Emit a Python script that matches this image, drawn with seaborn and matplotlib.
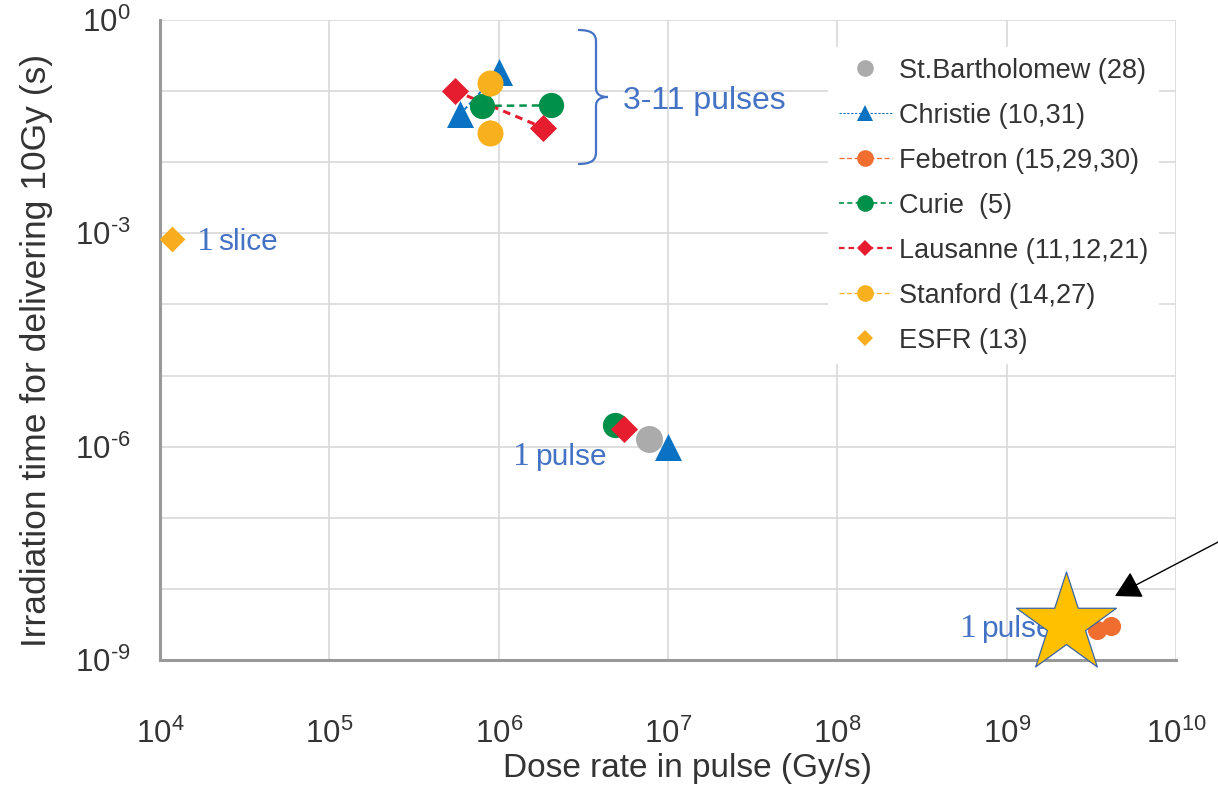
import numpy as np
import pandas as pd
import matplotlib
matplotlib.use("Agg")
import matplotlib.pyplot as plt
import seaborn as sns
from matplotlib.lines import Line2D
from matplotlib.path import Path
from matplotlib.patches import PathPatch
from matplotlib.transforms import Affine2D
from matplotlib.ticker import FixedLocator, FuncFormatter, NullLocator

# Dose rate in pulse (Gy/s) and irradiation time needed for 10 Gy (s)
bart_x = [7.7e6]
bart_y = [1.28e-6]
christie_x = [5.9e5, 1.0e6, 1.0e7]
christie_y = [0.047, 0.183, 1.0e-6]
febetron_x = [3.4e9, 4.15e9]
febetron_y = [2.65e-9, 3.0e-9]
curie_x = [7.95e5, 2.05e6, 4.85e6]
curie_y = [0.062, 0.063, 2.0e-6]
lausanne_x = [5.5e5, 1.83e6, 5.5e6]
lausanne_y = [0.101, 0.0306, 1.75e-6]
stanford_x = [8.9e5, 8.9e5]
stanford_y = [0.129, 0.0255]
esfr_x = [1.17e4]
esfr_y = [8.2e-4]
highlight_x = [2.25e9]
highlight_y = [3.18e-9]

# which points belong to the multi-pulse group (joined by dashed lines)
christie_multi = [True, True, False]
febetron_multi = [True, True]
curie_multi = [True, True, False]
lausanne_multi = [True, True, False]
stanford_multi = [True, True]

labels = ["St.Bartholomew (28)", "Christie (10,31)", "Febetron (15,29,30)",
          "Curie  (5)", "Lausanne (11,12,21)", "Stanford (14,27)", "ESFR (13)"]
x_tick_exponents = [4, 5, 6, 7, 8, 9, 10]
y_tick_exponents = [-9, -8, -7, -6, -5, -4, -3, -2, -1, 0]
y_label_exponents = [-9, -6, -3, 0]

rows = []
for name, xs, ys, multi in [
    (labels[0], bart_x, bart_y, [False]),
    (labels[1], christie_x, christie_y, christie_multi),
    (labels[2], febetron_x, febetron_y, febetron_multi),
    (labels[3], curie_x, curie_y, curie_multi),
    (labels[4], lausanne_x, lausanne_y, lausanne_multi),
    (labels[5], stanford_x, stanford_y, stanford_multi),
    (labels[6], esfr_x, esfr_y, [False]),
]:
    for x, y, m in zip(xs, ys, multi):
        rows.append({"facility": name, "dose_rate": x, "time": y, "multi": m})
df = pd.DataFrame(rows)

styles = {
    labels[0]: dict(color="#ABABAB", marker="o", s=378, ls=None, lw=0, leg_ms=12),
    labels[1]: dict(color="#0A72C2", marker="^", s=378, ls=(0, (2, 1.5)), lw=0.8, leg_ms=12),
    labels[2]: dict(color="#F06E30", marker="o", s=190, ls=(0, (4, 2)), lw=0.9, leg_ms=12),
    labels[3]: dict(color="#00904A", marker="o", s=330, ls=(0, (3, 2)), lw=1.2, leg_ms=12),
    labels[4]: dict(color="#E51D2E", marker="D", s=190, ls=(0, (2.5, 1.8)), lw=1.6, leg_ms=8.5),
    labels[5]: dict(color="#F8B01C", marker="o", s=350, ls=(0, (4, 2)), lw=0.9, leg_ms=12),
    labels[6]: dict(color="#F7AD1D", marker="D", s=172, ls=None, lw=0, leg_ms=8.5),
}

sns.set_style("white")
plt.rcParams["font.family"] = ["Liberation Sans", "DejaVu Sans"]
plt.rcParams["mathtext.fontset"] = "custom"
plt.rcParams["mathtext.rm"] = "Liberation Sans"
plt.rcParams["mathtext.default"] = "rm"
plt.rcParams["axes.unicode_minus"] = False

W, H = 1218, 785
fig = plt.figure(figsize=(W / 100, H / 100), dpi=100)
ax = fig.add_axes([160 / W, 1 - 660 / H, 1016 / W, 640 / H])
ax.set_xscale("log")
ax.set_yscale("log")
ax.set_xlim(1e4, 1e10)
ax.set_ylim(1e-9, 1e0)

text_dark = "#333333"
blue_txt = "#4472C4"

# dashed connectors between points of the multi-pulse group
for i, name in enumerate(labels):
    st = styles[name]
    sub = df[(df.facility == name) & (df.multi)]
    if st["ls"] is None or len(sub) < 2:
        continue
    sns.lineplot(data=sub, x="dose_rate", y="time", sort=False, estimator=None,
                 color=st["color"], linewidth=st["lw"] + 0.6, linestyle=st["ls"],
                 ax=ax, zorder=2, legend=False)

# markers, series order sets stacking order
for i, name in enumerate(labels):
    st = styles[name]
    sub = df[df.facility == name]
    sns.scatterplot(data=sub, x="dose_rate", y="time", marker=st["marker"],
                    s=st["s"], color=st["color"], linewidth=0, ax=ax,
                    zorder=3 + i * 0.1, legend=False)

# highlighted star
sns.scatterplot(x=highlight_x, y=highlight_y, marker="*", s=5715, color="#FFC000",
                edgecolor="#3A64A8", linewidth=0.9, ax=ax, zorder=10,
                clip_on=False, legend=False)


def power_label(exp):
    # hyphen-style minus in the exponent
    e = str(exp).replace("-", "\u2010")
    return r"$10^{%s}$" % e


# axes styling
ax.xaxis.set_major_locator(FixedLocator([10.0 ** e for e in x_tick_exponents]))
ax.xaxis.set_minor_locator(NullLocator())
ax.yaxis.set_major_locator(FixedLocator([10.0 ** e for e in y_tick_exponents]))
ax.yaxis.set_minor_locator(NullLocator())
ax.xaxis.set_major_formatter(FuncFormatter(
    lambda v, p: power_label(round(np.log10(v)))))
ax.yaxis.set_major_formatter(FuncFormatter(
    lambda v, p: power_label(round(np.log10(v)))
    if round(np.log10(v)) in y_label_exponents else ""))

ax.grid(True, which="major", color="#D9D9D9", linewidth=1.2, zorder=0)
ax.set_axisbelow(True)
for side in ("top", "right"):
    ax.spines[side].set_visible(False)
for side in ("left", "bottom"):
    ax.spines[side].set_color("#999999")
    ax.spines[side].set_linewidth(2.2)
ax.tick_params(axis="both", which="major", direction="out", length=6, width=2,
               color="#999999", labelsize=22.5, labelcolor=text_dark)
ax.tick_params(axis="y", pad=15)
ax.tick_params(axis="x", pad=36)

ax.set_xlabel("Dose rate in pulse (Gy/s)", fontsize=24, color=text_dark)
ax.xaxis.set_label_coords(0.519, -0.145)
ax.set_ylabel("Irradiation time for delivering 10Gy (s)", fontsize=25.5, color=text_dark)
ax.yaxis.set_label_coords(-0.105, 0.483)


def note(x, y, rest, size):
    # the leading "1" is set in a serif face, the rest in the sans face
    ax.text(x, y, "1", fontsize=size * 1.12, color=blue_txt, va="baseline",
            family=["Liberation Serif", "DejaVu Serif"], zorder=5)
    ax.annotate(rest, xy=(x, y), xycoords="data", xytext=(size * 0.72, 0),
                textcoords="offset points", fontsize=size, color=blue_txt,
                va="baseline", zorder=5)


# annotations
note(1.65e4, 5.8e-4, "slice", 21.5)
ax.text(5.43e6, 0.0555, "3-11 pulses", fontsize=23, color=blue_txt, va="baseline", zorder=5)
note(1.22e6, 5.5e-7, "pulse", 21.5)
note(5.3e8, 2.1e-9, "pulse", 21.5)

# curly brace around the multi-pulse group (figure pixel coordinates, origin top-left)
top_px = Affine2D().scale(1 / W, -1 / H).translate(0, 1) + fig.transFigure
verts = [(578, 30), (592, 30), (596, 34), (596, 42),
         (596, 88),
         (596, 94), (600, 97), (608, 97),
         (600, 97), (596, 100), (596, 106),
         (596, 152),
         (596, 160), (592, 164), (578, 164)]
codes = [Path.MOVETO, Path.CURVE4, Path.CURVE4, Path.CURVE4,
         Path.LINETO,
         Path.CURVE4, Path.CURVE4, Path.CURVE4,
         Path.CURVE4, Path.CURVE4, Path.CURVE4,
         Path.LINETO,
         Path.CURVE4, Path.CURVE4, Path.CURVE4]
fig.add_artist(PathPatch(Path(verts, codes), facecolor="none", edgecolor=blue_txt,
                         linewidth=1.6, transform=top_px, clip_on=False))

# pointer arrow into the highlighted point
ax.annotate("", xy=(1115, H - 596), xycoords="figure pixels",
            xytext=(1222, H - 540), textcoords="figure pixels",
            arrowprops=dict(arrowstyle="-|>,head_length=0.8,head_width=0.45",
                            color="black", lw=1.0, mutation_scale=20,
                            shrinkA=0, shrinkB=0), zorder=11)

# legend
handles = []
for name in labels:
    st = styles[name]
    handles.append(Line2D([0], [0], color=st["color"], marker=st["marker"],
                          markersize=st["leg_ms"], markeredgewidth=0,
                          linestyle=st["ls"] if st["ls"] is not None else "none",
                          linewidth=st["lw"]))
leg = ax.legend(handles, labels, loc="upper left",
                bbox_to_anchor=(828 / W, 1 - 47 / H), bbox_transform=fig.transFigure,
                fontsize=19.5, frameon=True, facecolor="white", edgecolor="none",
                framealpha=1, borderaxespad=0, borderpad=0.4, labelspacing=0.7,
                handlelength=1.95, handletextpad=0.27)
for t in leg.get_texts():
    t.set_color(text_dark)
leg.set_zorder(6)

fig.savefig("out.png", dpi=100)
